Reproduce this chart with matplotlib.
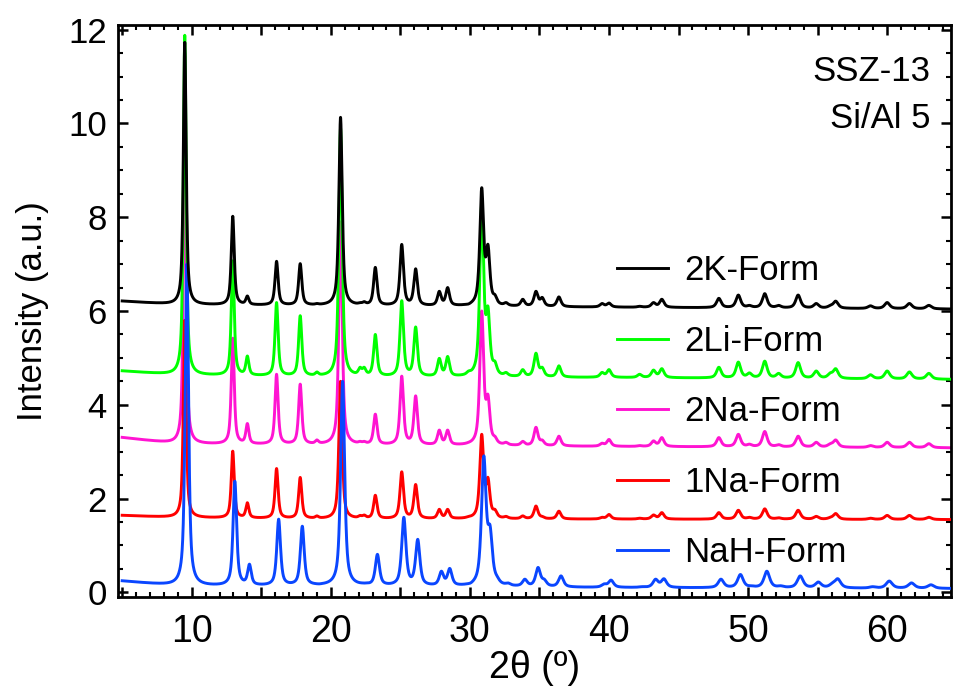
"""
XRD patterns of SSZ-13 (Si/Al 5) in different cation forms
"""

import numpy as np
import matplotlib
matplotlib.use('Agg')  # no display
import matplotlib.pyplot as plt
from matplotlib.ticker import MultipleLocator, FuncFormatter
from matplotlib import font_manager

# reflection positions (2theta, deg), shared by all samples
peak_pos = [9.5, 12.95, 14.0, 16.1, 17.8, 19.0, 20.7, 22.1, 22.4, 23.2,
            25.1, 26.1, 27.8, 28.4, 29.9, 30.85, 31.3, 31.8, 32.6, 33.8,
            34.75, 35.2, 36.4, 39.5, 40.0, 42.2, 43.2, 43.8, 47.9, 49.3,
            50.1, 51.2, 52.2, 53.6, 54.9, 55.9, 56.3, 58.8, 60.0, 61.6, 63.0]

# peak tops (offset intensity, a.u.)
top_2k = [11.73, 8.02, 6.32, 7.06, 7.01, 6.16, 10.13, 6.18, 6.20, 6.93,
          7.42, 6.90, 6.42, 6.50, 6.15, 8.63, 7.42, 6.35, 6.18, 6.25,
          6.42, 6.29, 6.30, 6.16, 6.17, 6.10, 6.18, 6.25, 6.27, 6.34,
          6.12, 6.37, 6.12, 6.34, 6.16, 6.12, 6.21, 6.11, 6.18, 6.16, 6.12]
top_2li = [11.88, 7.07, 5.04, 6.18, 5.90, 4.70, 9.90, 4.80, 4.80, 5.50,
           6.22, 5.66, 4.99, 5.03, 4.72, 8.30, 6.10, 4.93, 4.69, 4.75,
           5.10, 4.80, 4.83, 4.69, 4.75, 4.65, 4.74, 4.77, 4.80, 4.91,
           4.68, 4.93, 4.67, 4.90, 4.72, 4.68, 4.77, 4.64, 4.72, 4.70, 4.67]
top_2na = [9.80, 5.42, 3.60, 4.65, 4.44, 3.25, 7.90, 3.22, 3.22, 3.80,
           4.61, 4.19, 3.46, 3.46, 3.20, 6.00, 4.22, 3.33, 3.20, 3.22,
           3.52, 3.25, 3.33, 3.18, 3.26, 3.13, 3.23, 3.30, 3.30, 3.37,
           3.16, 3.43, 3.15, 3.33, 3.20, 3.17, 3.25, 3.13, 3.20, 3.20, 3.17]
top_1na = [5.80, 3.01, 1.91, 2.64, 2.45, 1.63, 4.50, 1.64, 1.65, 2.07,
           2.57, 2.30, 1.77, 1.77, 1.62, 3.37, 2.45, 1.77, 1.62, 1.63,
           1.84, 1.62, 1.73, 1.60, 1.66, 1.58, 1.65, 1.70, 1.70, 1.75,
           1.60, 1.78, 1.59, 1.75, 1.62, 1.60, 1.68, 1.58, 1.64, 1.64, 1.60]
top_nah = [7.00, 2.37, 0.60, 1.56, 1.41, 0.18, 4.50, 0.20, 0.20, 0.81,
           1.60, 1.13, 0.45, 0.51, 0.20, 2.91, 1.43, 0.35, 0.20, 0.28,
           0.53, 0.28, 0.35, 0.18, 0.26, 0.12, 0.28, 0.29, 0.28, 0.38,
           0.14, 0.45, 0.14, 0.35, 0.22, 0.20, 0.29, 0.12, 0.24, 0.20, 0.16]

# background level read at a few angles
base_x = [5, 9, 20, 40, 65]
base_2k = [6.21, 6.13, 6.11, 6.08, 6.04]
base_2li = [4.72, 4.63, 4.59, 4.58, 4.54]
base_2na = [3.30, 3.16, 3.14, 3.11, 3.08]
base_1na = [1.64, 1.59, 1.56, 1.56, 1.55]
base_nah = [0.24, 0.13, 0.13, 0.10, 0.08]

# NaH-form reflections sit slightly higher in 2theta
shift_nah = 0.15

labels = ['2K-Form', '2Li-Form', '2Na-Form', '1Na-Form', 'NaH-Form']
colors = ['black', '#00ff00', '#ff14d2', '#ff0000', '#0a46ff']


def peak_shape(x, x0, fwhm, eta=0.7):
    u = (x - x0) / (fwhm / 2)
    return eta / (1 + u ** 2) + (1 - eta) * np.exp(-np.log(2) * u ** 2)


def pattern(x, tops, base, shift=0.0, broad=1.0):
    pos = np.array(peak_pos) + shift
    fwhm = (0.24 + 0.004 * (pos - 10)) * broad
    # solve for peak amplitudes so the summed curve hits the read-off tops
    A = peak_shape(pos[:, None], pos[None, :], fwhm[None, :])
    amp = np.linalg.solve(A, np.array(tops) - np.interp(pos, base_x, base))
    y = np.interp(x, base_x, base)
    for p, w, a in zip(pos, fwhm, amp):
        y = y + a * peak_shape(x, p, w)
    return y


two_theta = np.arange(5, 65.001, 0.01)

try:
    font_manager.findfont('Liberation Sans Narrow', fallback_to_default=False)
    narrow = 'Liberation Sans Narrow'
except ValueError:
    narrow = 'Liberation Sans'

plt.rcParams['font.family'] = ['Liberation Sans', 'DejaVu Sans']

fig = plt.figure(figsize=(9.54, 6.9), dpi=100)
ax = fig.add_axes([0.1237, 0.1348, 0.8733, 0.829])

series = [
    (top_2k, base_2k, 0.0, 1.0),
    (top_2li, base_2li, 0.0, 1.0),
    (top_2na, base_2na, 0.0, 1.0),
    (top_1na, base_1na, 0.0, 1.0),
    (top_nah, base_nah, shift_nah, 1.2),
]
zorders = [6, 4, 2, 3, 5]
handles = []
for (tops, base, sh, br), lab, col, z in zip(series, labels, colors, zorders):
    y = pattern(two_theta, tops, base, sh, br)
    h, = ax.plot(two_theta, y, color=col, lw=2.1, label=lab, zorder=z)
    handles.append(h)

ax.set_xlim(4.7, 64.6)
ax.set_ylim(-0.1, 12.1)

ax.xaxis.set_major_locator(MultipleLocator(5))
ax.xaxis.set_minor_locator(MultipleLocator(1))
ax.xaxis.set_major_formatter(FuncFormatter(
    lambda v, p: f'{v:.0f}' if round(v) % 10 == 0 else ''))
ax.yaxis.set_major_locator(MultipleLocator(2))
ax.yaxis.set_minor_locator(MultipleLocator(0.5))

ax.tick_params(which='both', direction='in', top=True, right=True)
ax.tick_params(which='major', length=7, width=1.8)
ax.tick_params(which='minor', length=3.6, width=1.5)
ax.tick_params(axis='y', labelsize=25, pad=8)
ax.tick_params(axis='x', labelsize=27, pad=12)
for lbl in ax.get_xticklabels():
    lbl.set_fontfamily(narrow)
for sp in ax.spines.values():
    sp.set_linewidth(2.0)

ax.set_xlabel('2θ (º)', fontsize=27, family=[narrow, 'DejaVu Sans'], labelpad=0)
ax.set_ylabel('Intensity (a.u.)', fontsize=25, labelpad=14)

ax.text(0.975, 0.918, 'SSZ-13', transform=ax.transAxes, ha='right',
        va='center', fontsize=25)
ax.text(0.975, 0.837, 'Si/Al 5', transform=ax.transAxes, ha='right',
        va='center', fontsize=25)

ax.legend(handles=handles, loc='center left', bbox_to_anchor=(0.599, 0.324),
          frameon=False, fontsize=25, borderpad=0, borderaxespad=0,
          handlelength=1.47, handletextpad=0.46, labelspacing=1.08)

fig.savefig('out.png', dpi=100)
